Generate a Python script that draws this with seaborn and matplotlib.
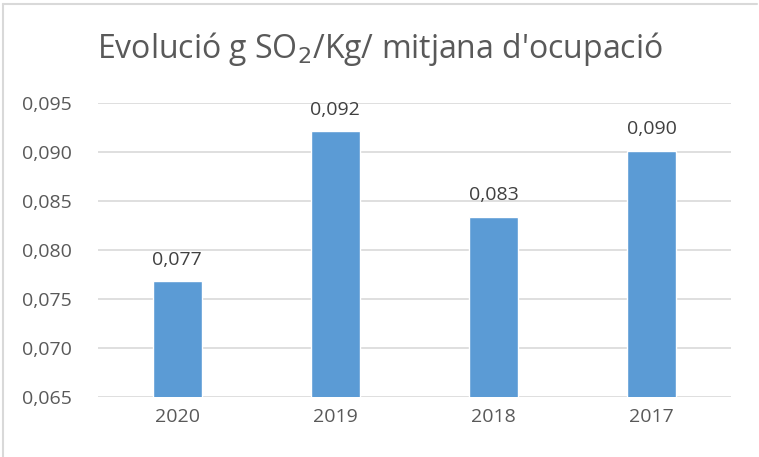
import matplotlib
matplotlib.use("Agg")
import matplotlib.pyplot as plt
import seaborn as sns
import pandas as pd
import numpy as np
from matplotlib.ticker import FuncFormatter, MultipleLocator

years = ["2020", "2019", "2018", "2017"]
values = [0.0768, 0.0921, 0.0834, 0.0901]
labels = ["0,077", "0,092", "0,083", "0,090"]

sns.set_theme(style="white")
plt.rcParams['font.family'] = ['Open Sans', 'DejaVu Sans']

df = pd.DataFrame({"year": years, "value": values})

fig = plt.figure(figsize=(7.59, 4.57), dpi=100)
ax = fig.add_axes([0.129, 0.131, 0.834, 0.644])
sns.barplot(data=df, x="year", y="value", color="#5B9BD5", saturation=1,
            width=0.31, ax=ax, zorder=3)

ax.set_ylim(0.065, 0.095)
ax.yaxis.set_major_locator(MultipleLocator(0.005))
ax.yaxis.set_major_formatter(FuncFormatter(lambda v, p: f"{v:.3f}".replace(".", ",")))
ax.grid(axis="y", color="#D9D9D9", linewidth=1.2, zorder=0)
ax.set_axisbelow(True)
for s in ax.spines.values():
    s.set_visible(False)
ax.tick_params(axis="both", length=0, labelsize=14, labelcolor="#595959", pad=8)
ax.tick_params(axis="y", pad=55)
for t in ax.get_yticklabels():
    t.set_horizontalalignment("left")
ax.set_xlabel("")
ax.set_ylabel("")

for i, (v, lab) in enumerate(zip(values, labels)):
    ax.annotate(lab, (i, v), xytext=(0, 9), textcoords="offset points",
                ha="center", va="bottom", fontsize=14, color="#404040")

fig.text(0.5, 0.893, "Evolució g SO$_2$/Kg/ mitjana d'ocupació", ha="center", va="center",
         fontsize=23, color="#595959")

# chart border (left and top visible)
fig.add_artist(plt.Line2D([0.004, 0.004], [0.0, 0.991], color="#D9D9D9", lw=1.5, transform=fig.transFigure))
fig.add_artist(plt.Line2D([0.004, 0.997], [0.991, 0.991], color="#D9D9D9", lw=1.5, transform=fig.transFigure))

fig.savefig("out.png", dpi=100, facecolor="white")
